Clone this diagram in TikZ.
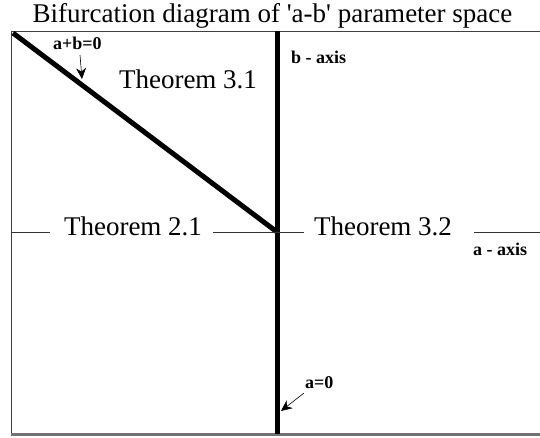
\documentclass[tikz,border=0pt]{standalone}
\usepackage{fontspec}
\setmainfont{Liberation Serif}
\usetikzlibrary{arrows.meta}
\begin{document}
\begin{tikzpicture}[x=1pt,y=-1pt,
  big/.style={font=\fontsize{27}{27}\selectfont, inner sep=0pt, anchor=base},
  small/.style={font=\fontsize{18}{18}\selectfont\bfseries, inner sep=0pt, anchor=base west},
  frameline/.style={line width=1.2pt, draw=black!75},
  thickline/.style={line width=5pt, draw=black},
  thinline/.style={line width=0.8pt, draw=black!80},
  pointer/.style={line width=0.6pt, -{Stealth[length=11pt,width=10pt]}}]
\useasboundingbox (0,0) rectangle (540,437);
% title
\node[font=\fontsize{27}{27}\selectfont, inner sep=0pt, anchor=base] (title) at (272.5,22) {Bifurcation diagram of \textquotesingle a-b\textquotesingle{} parameter space};
% frame
\draw[frameline] (11,31.5) -- (540,31.5);
\draw[frameline] (11.5,31) -- (11.5,434);
\draw[line width=2.5pt, draw=black!55] (11,434.5) -- (540,434.5);
% axes
\coordinate (O) at (277,232);
\coordinate (btop) at (277,31);
\coordinate (bbot) at (277,434);
\coordinate (diag) at (13,33);
\draw[thickline] (btop) -- (bbot);
\draw[thickline] (diag) -- (O);
% horizontal axis pieces
\draw[thinline] (11,232) -- (50,232);
\draw[thinline] (213,232) -- (304,232);
\draw[thinline] (474,232) -- (540,232);
% region labels
\node[big] (t31) at (188,88) {Theorem 3.1};
\node[big] (t21) at (133,235) {Theorem 2.1};
\node[big] (t32) at (383,235) {Theorem 3.2};
% small labels
\node[small] (ab) at (53,49) {a+b=0};
\node[small] (bax) at (291,63) {b - axis};
\node[small] (aax) at (473,255) {a - axis};
\node[small] (a0) at (305,388) {a=0};
\coordinate (abtip) at (82,79);
\coordinate (a0tip) at (281,411);
\draw[pointer] (80,55) -- (abtip);
\draw[pointer] (304,393) -- (a0tip);
\end{tikzpicture}
\end{document}
